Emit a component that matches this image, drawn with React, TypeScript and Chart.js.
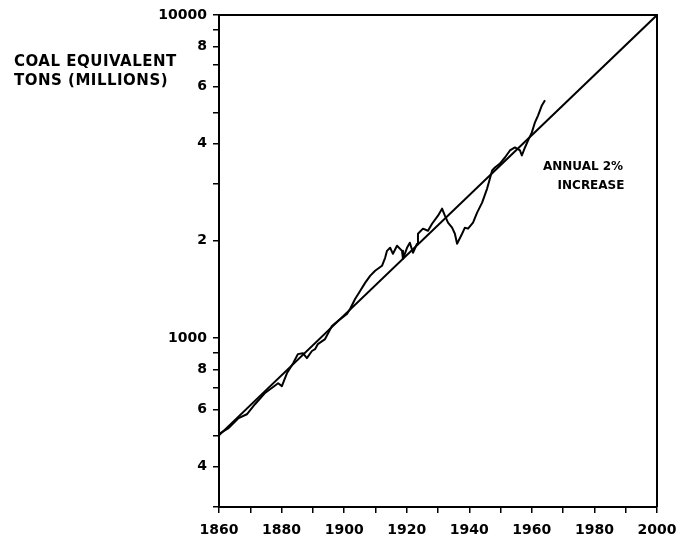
import { useEffect, useRef } from 'react';
import { Chart, registerables } from 'chart.js';

Chart.register(...registerables);

const years = [
  1860.3, 1862.9, 1866.1, 1868.9, 1871.5, 1874.6, 1878.9, 1880.1, 1881.7, 1883.7,
  1885.2, 1886.8, 1888.1, 1889.7, 1890.7, 1891.6, 1893.9, 1896.1, 1898.0, 1900.9,
  1901.9, 1903.5, 1905.1, 1906.7, 1908.3, 1909.9, 1912.1, 1913.1, 1913.7, 1914.7,
  1915.6, 1916.9, 1918.5, 1918.8, 1920.1, 1921.0, 1922.0, 1923.3, 1923.6, 1925.2,
  1926.8, 1928.1, 1930.0, 1931.3, 1932.2, 1933.2, 1934.5, 1935.4, 1936.1, 1937.7,
  1938.6, 1939.6, 1941.2, 1942.5, 1944.1, 1945.7, 1946.6, 1947.3, 1948.2, 1949.8,
  1951.4, 1953.0, 1954.6, 1956.2, 1956.8, 1957.8, 1958.8, 1960.0, 1961.0, 1962.0,
  1963.2, 1964.2,
];
const coalEquivalent = [
  507, 525, 564, 581, 624, 675, 725, 710, 778, 836,
  892, 898, 867, 912, 924, 958, 993, 1090, 1129, 1187,
  1230, 1321, 1399, 1482, 1558, 1615, 1674, 1772, 1862, 1903,
  1823, 1931, 1862, 1759, 1903, 1973, 1836, 1959, 2104, 2181,
  2149, 2259, 2393, 2515, 2393, 2276, 2196, 2104, 1959, 2104,
  2196, 2181, 2276, 2445, 2625, 2902, 3119, 3301, 3373, 3468,
  3622, 3808, 3890, 3808, 3674, 3890, 4090, 4331, 4654, 4891,
  5250, 5445,
];

const trendYears = [1860, 2000];
const trendValues = [500, 10000];

const yTickValues = [
  300, 400, 500, 600, 700, 800, 900, 1000,
  2000, 3000, 4000, 5000, 6000, 7000, 8000, 9000, 10000,
];
const yTickLabelMap: Record<number, string> = {
  400: '4', 600: '6', 800: '8', 1000: '1000',
  2000: '2', 4000: '4', 6000: '6', 8000: '8', 10000: '10000',
};
const xLabelYears = [1860, 1880, 1900, 1920, 1940, 1960, 1980, 2000];

const yTitleLines = ['COAL EQUIVALENT', 'TONS (MILLIONS)'];
const noteLines = ['ANNUAL 2%', 'INCREASE'];

const FONT = 'DejaVu Sans';

const framePlugin = {
  id: 'frameAndText',
  afterDraw(chart: any) {
    const { ctx, chartArea } = chart;
    ctx.save();
    ctx.strokeStyle = '#000';
    ctx.lineWidth = 2;
    ctx.beginPath();
    ctx.moveTo(chartArea.left, chartArea.top);
    ctx.lineTo(chartArea.right, chartArea.top);
    ctx.lineTo(chartArea.right, chartArea.bottom);
    ctx.stroke();

    ctx.fillStyle = '#000';
    ctx.font = `bold 15px "${FONT}"`;
    try { (ctx as any).letterSpacing = '0.5px'; } catch (e) {}
    ctx.textBaseline = 'middle';
    ctx.textAlign = 'left';
    ctx.fillText(yTitleLines[0], 14, 62);
    ctx.fillText(yTitleLines[1], 14, 81);

    try { (ctx as any).letterSpacing = '0px'; } catch (e) {}
    ctx.font = `bold 12px "${FONT}"`;
    ctx.textAlign = 'center';
    ctx.fillText(noteLines[0], 583, 167);
    ctx.fillText(noteLines[1], 591, 186);
    ctx.restore();
  },
};

export default function App() {
  const canvasRef = useRef<HTMLCanvasElement | null>(null);

  useEffect(() => {
    if (!canvasRef.current) return;
    const chart = new Chart(canvasRef.current, {
      type: 'line',
      data: {
        datasets: [
          {
            label: 'Coal equivalent',
            data: years.map((x, i) => ({ x, y: coalEquivalent[i] })),
            borderColor: '#000',
            borderWidth: 2,
            pointRadius: 0,
            tension: 0,
            borderJoinStyle: 'round',
            fill: false,
          },
          {
            label: 'Annual 2% increase',
            data: trendYears.map((x, i) => ({ x, y: trendValues[i] })),
            borderColor: '#000',
            borderWidth: 2,
            pointRadius: 0,
            tension: 0,
            fill: false,
          },
        ],
      },
      options: {
        animation: false,
        responsive: false,
        maintainAspectRatio: false,
        layout: { padding: { left: 0, right: 25, top: 15, bottom: 0 } },
        plugins: {
          legend: { display: false },
          tooltip: { enabled: false },
          title: { display: false },
        },
        scales: {
          x: {
            type: 'linear',
            min: 1860,
            max: 2000,
            afterFit: (scale: any) => {
              scale.height = 30;
              scale.paddingLeft = 0;
              scale.paddingRight = 0;
            },
            ticks: {
              stepSize: 10,
              autoSkip: false,
              maxRotation: 0,
              padding: 9,
              color: '#000',
              font: { family: FONT, size: 14, weight: 'bold' },
              callback: (v: any) => (xLabelYears.includes(Number(v)) ? String(v) : ''),
            },
            grid: {
              drawOnChartArea: false,
              drawTicks: true,
              tickLength: 6,
              color: '#000',
              lineWidth: 1.5,
            },
            border: { display: true, color: '#000', width: 2 },
          },
          y: {
            type: 'logarithmic',
            min: 300,
            max: 10000,
            afterFit: (scale: any) => {
              scale.width = 219;
              scale.paddingTop = 0;
              scale.paddingBottom = 0;
            },
            afterBuildTicks: (scale: any) => {
              scale.ticks = yTickValues.map((value) => ({ value }));
            },
            ticks: {
              autoSkip: false,
              padding: 6,
              color: '#000',
              font: { family: FONT, size: 14, weight: 'bold' },
              callback: (v: any) => yTickLabelMap[Number(v)] ?? '',
            },
            grid: {
              drawOnChartArea: false,
              drawTicks: true,
              tickLength: 6,
              color: '#000',
              lineWidth: 1.5,
            },
            border: { display: true, color: '#000', width: 2 },
          },
        },
      },
      plugins: [framePlugin],
    } as any);
    return () => chart.destroy();
  }, []);

  return (
    <div style={{ position: 'absolute', left: 0, top: 0, width: 682, height: 537, background: '#fff' }}>
      <canvas ref={canvasRef} width={682} height={537} style={{ display: 'block' }} />
    </div>
  );
}
